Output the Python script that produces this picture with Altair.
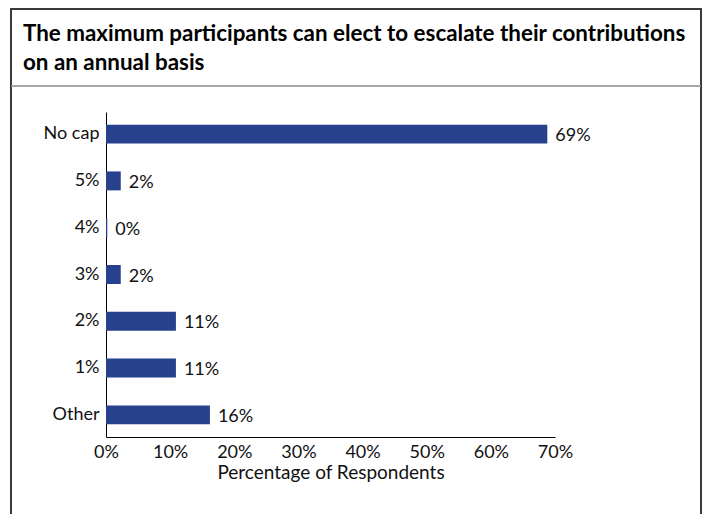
import altair as alt
import pandas as pd

categories = ["No cap", "5%", "4%", "3%", "2%", "1%", "Other"]
values = [68.8, 2.3, 0.2, 2.3, 10.9, 10.9, 16.2]
labels = ["69%", "2%", "0%", "2%", "11%", "11%", "16%"]
x_ticks = [0, 10, 20, 30, 40, 50, 60, 70]
title_lines = ["The maximum participants can elect to escalate their contributions",
               "on an annual basis"]
x_title = "Percentage of Respondents"

FONT = "Lato"
BAR = "#27418C"

df = pd.DataFrame({"cat": categories, "val": values, "lab": labels})

y_enc = alt.Y("cat:N", sort=categories, title=None,
              scale=alt.Scale(paddingInner=0.595, paddingOuter=0.27),
              axis=alt.Axis(domainColor="#000000", domainWidth=1, ticks=False,
                            labelFontSize=18, labelPadding=7, labelColor="#111111",
                            labelFont=FONT))
x_enc = alt.X("val:Q", title=x_title,
              scale=alt.Scale(domain=[0, 70], nice=False),
              axis=alt.Axis(values=x_ticks, labelExpr="datum.value + '%'",
                            labelFlush=False, labelOverlap=False,
                            domainColor="#000000", domainWidth=1, ticks=False, grid=False,
                            labelFontSize=18, labelPadding=6, labelColor="#111111",
                            labelFont=FONT, titleFont=FONT, titleFontSize=19,
                            titleFontWeight="normal", titleColor="#111111", titlePadding=2))

bars = alt.Chart(df).mark_bar(color=BAR).encode(x=x_enc, y=y_enc)
texts = alt.Chart(df).mark_text(align="left", dx=8, dy=2, fontSize=18, font=FONT,
                                color="#111111").encode(
    x="val:Q", y=alt.Y("cat:N", sort=categories), text="lab:N")

one = alt.Data(values=[{"a": 1}])
frame = alt.Chart(one).mark_rect(fill=None, stroke="#3a3a3a", strokeWidth=2).encode(
    x=alt.value(-95), x2=alt.value(595), y=alt.value(-103), y2=alt.value(600))
sep = alt.Chart(one).mark_rule(color="#8a8a8a", strokeWidth=1.5).encode(
    x=alt.value(-95), x2=alt.value(595), y=alt.value(-26))
title = alt.Chart(one).mark_text(text=title_lines, align="left", baseline="alphabetic",
                                 font=FONT, fontSize=22.4, fontWeight="bold",
                                 lineHeight=28.5, color="#000000").encode(
    x=alt.value(-83), y=alt.value(-71))

chart = alt.layer(bars, texts, frame, sep, title).properties(
    width=449, height=325,
    padding={"left": 98, "top": 104, "right": 148, "bottom": 77},
    autosize=alt.AutoSizeParams(type="none"),
    background="#ffffff",
).configure_view(stroke=None)

chart.save("out.html", embed_options={"renderer": "svg", "actions": False})
